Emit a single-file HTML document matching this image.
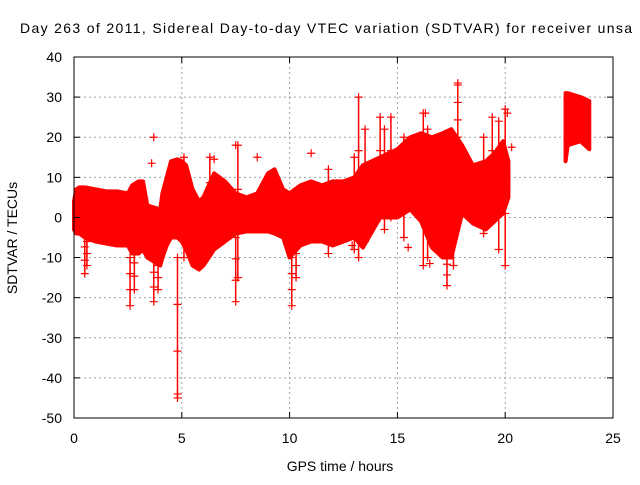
<!DOCTYPE html>
<html><head><meta charset="utf-8"><style>
body{margin:0;background:#fff;width:640px;height:480px;overflow:hidden}
svg text{font-family:"Liberation Sans",sans-serif;font-size:14px;fill:#000}
</style></head><body>
<svg id="chart" width="640" height="480">
<rect width="640" height="480" fill="#fff"/>
<text x="20" y="33" textLength="612" lengthAdjust="spacing">Day 263 of 2011, Sidereal Day-to-day VTEC variation (SDTVAR) for receiver unsa</text>
<g id="grid"></g>
<g id="series"></g>
<g id="axes"></g>
<text x="340" y="471" text-anchor="middle">GPS time / hours</text>
<text transform="translate(17,238) rotate(-90)" text-anchor="middle">SDTVAR / TECUs</text>
</svg>
<script>
const xTicks=[0,5,10,15,20,25];
const yTicks=[-50,-40,-30,-20,-10,0,10,20,30,40];
const bandT=[0,0.1,0.25,0.5,1,1.5,2,2.5,2.7,3,3.2,3.4,3.7,4,4.1,4.3,4.5,4.8,5,5.2,5.5,5.8,6,6.5,7,7.5,8,8.5,9,9.3,9.7,10,10.5,11,11.5,12,12.5,13,13.4,14.2,15,15.6,16.1,16.6,17.1,17.5,18,18.5,19.1,19.5,19.9,20.15,22.8,22.9,23.5,23.9];
const bandHi=[4,7,7.5,7.5,7,6.5,6.5,6,8,9,9,3,2.5,2,6,10,14,14.5,14,13,7,4,5,11,9,6,5,6,11,12,7,6,8,9,8,9,9,10,13,15,17,20,21,20,21,22,18,13,14,16,19,14,31,31,30,29];
const bandLo=[-3,-4,-4,-5,-6,-6.5,-7,-7,-9,-9,-8,-10,-11,-12,-10,-7,-5,-5,-6,-8,-12,-13,-12,-8,-6,-4,-3.5,-3.5,-3.5,-4,-5,-10,-7,-6,-6,-7,-6,-5,-7.5,0,0,2,-1,-7.5,-10,-10,1,-1.5,-3,-1,1,5,14,18,19,17];
const spikeT=[0.5,0.6,2.6,2.8,3.7,3.9,4.8,5.1,6.3,7.5,7.6,10.1,10.3,11.8,13.0,13.2,13.5,14.2,14.4,14.7,15.3,16.2,16.4,17.3,17.6,17.8,19.0,19.4,19.7,20];
const spikeLo=[-14,-12,-22,-18,-21,-18,-45,-10,-4,-21,-15,-22,-15,-9,-8,-10,-6,0,-3,0,-5,-12,-10,-17,-12,20,-4,0,-8,-12];
const spikeHi=[-4,-3,-10,-8,-10,-9,-10,15,15,-5,18,-10,-6,12,15,30,22,25,22,25,20,26,22,-9,15,33,20,25,24,27];
const outT=[3.7,3.6,6.5,7.5,8.5,11,17.8,16.3,15.5,20.3,16.5,4.8,12.9,20.1];
const outV=[20,13.5,14.5,18,15,16,33.5,26,-7.5,17.5,-11.5,-44,-7,26];
const X0=74,X1=613,Y0=418,Y1=57;
const sx=t=>X0+(t-0)/25*(X1-X0);
const sy=v=>Y0-(v+50)/90*(Y0-Y1);
const NS="http://www.w3.org/2000/svg";
function mk(tag,attrs,parent){const e=document.createElementNS(NS,tag);for(const k in attrs)e.setAttribute(k,attrs[k]);parent.appendChild(e);return e;}
const grid=document.getElementById('grid'),axes=document.getElementById('axes'),ser=document.getElementById('series');
xTicks.forEach(t=>{const x=sx(t);
 if(t>0&&t<25){const g=mk('line',{x1:x,x2:x,y1:Y1,y2:Y0,stroke:'#a0a0a0','stroke-dasharray':'2,3'},grid);}
 mk('line',{x1:x,x2:x,y1:Y0,y2:Y0-6,stroke:'#000'},axes);mk('line',{x1:x,x2:x,y1:Y1,y2:Y1+6,stroke:'#000'},axes);
 const tx=mk('text',{x:x,y:443,'text-anchor':'middle'},axes);tx.textContent=t;
 });
yTicks.forEach(v=>{const y=sy(v);
 if(v>-50&&v<40){const g=mk('line',{x1:X0,x2:X1,y1:y,y2:y,stroke:'#a0a0a0','stroke-dasharray':'2,3'},grid);}
 mk('line',{x1:X0,x2:X0+6,y1:y,y2:y,stroke:'#000'},axes);mk('line',{x1:X1,x2:X1-6,y1:y,y2:y,stroke:'#000'},axes);
 const tx=mk('text',{x:X0-12,y:y+5,'text-anchor':'end'},axes);tx.textContent=v;
 });
mk('rect',{x:X0,y:Y1,width:X1-X0,height:Y0-Y1,fill:'none',stroke:'#000'},axes);
let segs=[[0]];
for(let i=1;i<bandT.length;i++){if(bandT[i]-bandT[i-1]>1)segs.push([i]);else segs[segs.length-1].push(i);}
segs.forEach(s=>{let pts=s.map(i=>sx(bandT[i])+','+sy(bandHi[i]));pts=pts.concat(s.slice().reverse().map(i=>sx(bandT[i])+','+sy(bandLo[i])));
 const p=mk('polygon',{points:pts.join(' '),fill:'#f00',stroke:'#f00','stroke-width':4,'stroke-linejoin':'round'},ser);
 });
spikeT.forEach((t,i)=>{const x=sx(t);
 const l=mk('line',{x1:x,x2:x,y1:sy(spikeLo[i]),y2:sy(spikeHi[i]),stroke:'#f00','stroke-width':1.5},ser);
 
 [spikeLo[i],spikeHi[i],(spikeLo[i]*2+spikeHi[i])/3,(spikeLo[i]+spikeHi[i]*2)/3].forEach(v=>{const y=sy(v);mk('path',{d:`M${x-4},${y}H${x+4}M${x},${y-4}V${y+4}`,stroke:'#f00','stroke-width':1.2},ser);});});
outT.forEach((t,i)=>{const x=sx(t),y=sy(outV[i]);
 const p=mk('path',{d:`M${x-4},${y}H${x+4}M${x},${y-4}V${y+4}`,stroke:'#f00','stroke-width':1.2},ser);
 });
</script>
</body></html>
